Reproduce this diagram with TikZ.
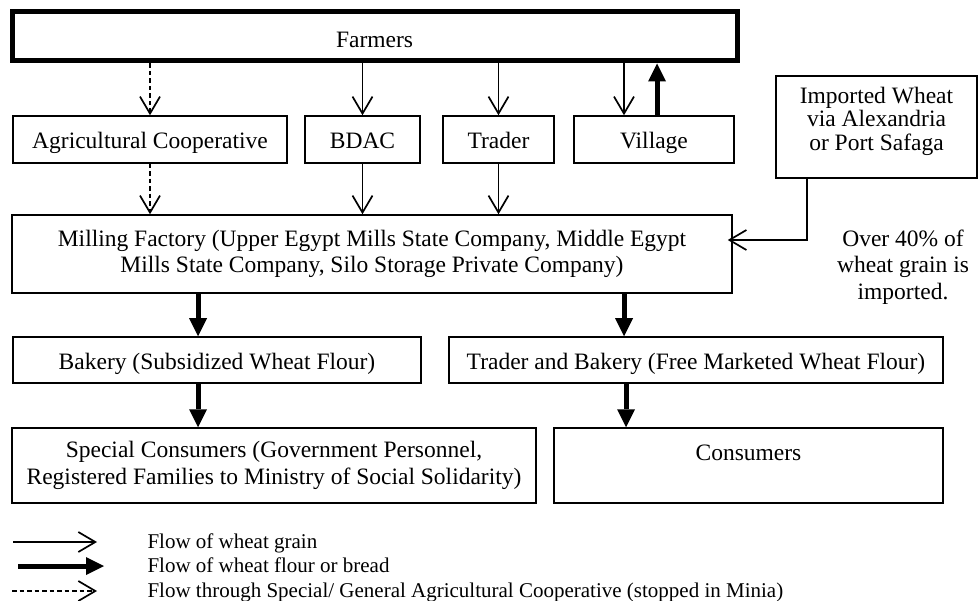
\documentclass[tikz,border=0pt]{standalone}
\usepackage{fontspec}
\setmainfont{Liberation Serif}
\usetikzlibrary{arrows.meta,positioning,calc}

\begin{document}
\begin{tikzpicture}[x=1pt, y=-1pt,
  block/.style={rectangle, draw, line width=1.5pt, inner sep=0pt, align=center},
  oneline/.style={block, text height=18pt, text depth=0pt},
  grain/.style={-{Straight Barb[length=17pt,width=20pt]}, line width=1.7pt},
  flour/.style={-{Triangle[length=18pt,width=18pt,line width=0pt]}, line width=5pt},
  coop/.style={grain, dash pattern=on 4.5pt off 3pt},
  legend/.style={anchor=base west, font=\fontsize{21}{24}\selectfont},
  font=\fontsize{23.5}{26.5}\selectfont
]
\useasboundingbox (0,0) rectangle (979,601);

% top row
\node[oneline, text height=23pt, line width=5pt, minimum width=725, minimum height=49] (farmers) at (374.5,36.5) {Farmers};
\node[oneline, minimum width=274, minimum height=47] (agri) at (150,139.5) {Agricultural Cooperative};
\node[oneline, minimum width=115, minimum height=47] (bdac) at (362.5,139.5) {BDAC};
\node[oneline, minimum width=111, minimum height=47] (trader) at (498.5,139.5) {Trader};
\node[oneline, minimum width=160, minimum height=47] (village) at (654,139.5) {Village};
\node[block, minimum width=201, minimum height=102, font=\fontsize{23.5}{23.5}\selectfont]
  (import) at (876.5,127) {Imported Wheat\\via Alexandria\\or Port Safaga\rule[-17pt]{0pt}{17pt}};

% milling
\node[block, minimum width=720, minimum height=78] (mill) at (372,254)
  {Milling Factory (Upper Egypt Mills State Company, Middle Egypt\\Mills State Company, Silo Storage Private Company)};
\node[align=center, inner sep=0pt, font=\fontsize{23.5}{26.5}\selectfont] (note) at (903,267)
  {Over 40\% of\\wheat grain is\\imported.};

% bakeries and consumers
\node[oneline, minimum width=408, minimum height=46] (bakery) at (217,360) {Bakery (Subsidized Wheat Flour)};
\node[oneline, minimum width=494, minimum height=46] (tbakery) at (696,360) {Trader and Bakery (Free Marketed Wheat Flour)};
\node[block, minimum width=524, minimum height=75] (special) at (274,465.5)
  {Special Consumers (Government Personnel,\\Registered Families to Ministry of Social Solidarity)};
\node[block, minimum width=389, minimum height=75] (cons) at (748.5,465.5) {Consumers\\\mbox{}};

% grain flows
\draw[coop] (agri.north |- farmers.south) -- (agri.north);
\draw[grain] (bdac.north |- farmers.south) -- (bdac.north);
\draw[grain] (trader.north |- farmers.south) -- (trader.north);
\draw[grain] ([xshift=-30pt]village.north |- farmers.south) -- ([xshift=-30pt]village.north);
\draw[coop] (agri.south) -- (agri.south |- mill.north);
\draw[grain] (bdac.south) -- (bdac.south |- mill.north);
\draw[grain] (trader.south) -- (trader.south |- mill.north);
\draw[grain, shorten >=-5pt] ([xshift=-69.5pt]import.south) |- ([yshift=14pt]mill.east);

% flour flows
\draw[flour] ([xshift=3pt]village.north) -- ([xshift=3pt]village.north |- farmers.south);
\draw[flour] ([xshift=-19pt]bakery.north |- mill.south) -- ([xshift=-19pt]bakery.north);
\draw[flour] ([xshift=-72pt]tbakery.north |- mill.south) -- ([xshift=-72pt]tbakery.north);
\draw[flour] ([xshift=-19pt]bakery.south) -- ([xshift=-19pt]bakery.south |- special.north);
\draw[flour] ([xshift=-70pt]tbakery.south) -- ([xshift=-70pt]tbakery.south |- cons.north);

% legend
\node[legend] (leg1) at (144,548) {Flow of wheat grain};
\node[legend] (leg2) at (144,572) {Flow of wheat flour or bread};
\node[legend] (leg3) at (144,597) {Flow through Special/ General Agricultural Cooperative (stopped in Minia)};
\draw[grain] ([xshift=-131pt,yshift=6pt]leg1.base west) -- ([xshift=-47pt,yshift=6pt]leg1.base west);
\draw[flour] ([xshift=-126pt,yshift=6pt]leg2.base west) -- ([xshift=-40pt,yshift=6pt]leg2.base west);
\draw[coop] ([xshift=-132pt,yshift=6pt]leg3.base west) -- ([xshift=-47pt,yshift=6pt]leg3.base west);
\end{tikzpicture}
\end{document}
